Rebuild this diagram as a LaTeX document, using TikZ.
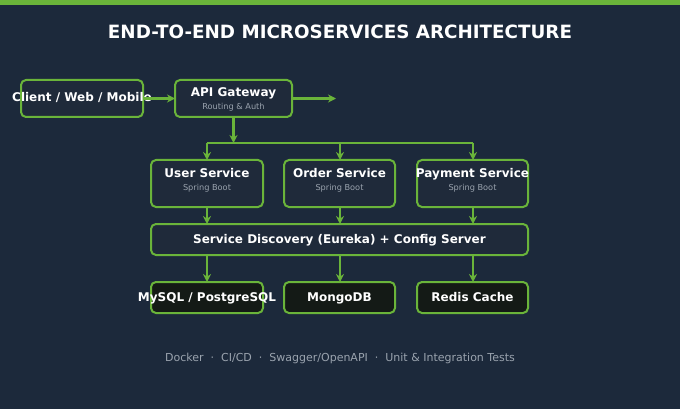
\documentclass[tikz,border=0pt]{standalone}
\usepackage{fontspec}
\setmainfont{DejaVu Sans}
\definecolor{bg}{HTML}{1C293B}
\definecolor{gr}{HTML}{6AB43A}
\definecolor{boxf}{HTML}{1F2A3A}
\definecolor{dbf}{HTML}{141A16}
\definecolor{sub}{HTML}{9AA3AE}
\usetikzlibrary{arrows.meta}
\tikzset{
 bx/.style={draw=gr,line width=2pt,rounded corners=5pt,fill=boxf,inner sep=0pt},
 db/.style={bx,fill=dbf},
 lab/.style={text=white,font=\bfseries\fontsize{12}{13}\selectfont,text height=8.5pt,text depth=2.5pt,inner sep=0pt},
 subl/.style={text=sub,font=\fontsize{8.2}{9}\selectfont,text height=6pt,text depth=2pt,inner sep=0pt},
 ar/.style={draw=gr,line width=2.2pt,-{Stealth[length=8pt,width=8pt]}},
 ln/.style={draw=gr,line width=2.2pt}
}
\begin{document}
\begin{tikzpicture}[x=1pt,y=-1pt]
\fill[bg] (0,0) rectangle (680,409);
\useasboundingbox (0,0) rectangle (680,409);
\fill[gr] (0,0) rectangle (680,5);
\node[text=white,font=\bfseries\fontsize{18.3}{20}\selectfont] (title) at (340,32) {END-TO-END MICROSERVICES ARCHITECTURE};
% boxes
\path[bx] (21,80) rectangle (143,117); \coordinate (cl) at (82,99);
\node[lab] (client) at (cl) {Client / Web / Mobile};
\path[bx] (175,80) rectangle (292,117);
\node[lab] (api) at (233.5,94) {API Gateway};
\node[subl] (apis) at (233.5,108) {Routing \& Auth};
\foreach \n/\a/\b/\t in {us/151/263/User Service,os/284/395/Order Service,ps/417/528/Payment Service}{
 \path[bx] (\a,160) rectangle (\b,207);
 \node[lab] (\n) at ({(\a+\b)/2},174) {\t};
 \node[subl] (\n s) at ({(\a+\b)/2},188) {Spring Boot};
}
\path[bx] (151,224) rectangle (528,255);
\node[lab] (disc) at (339.5,240) {Service Discovery (Eureka) + Config Server};
\foreach \n/\a/\b/\t in {d1/151/263/{MySQL / PostgreSQL},d2/284/395/MongoDB,d3/417/528/Redis Cache}{
 \path[db] (\a,282) rectangle (\b,313);
 \node[lab] (\n) at ({(\a+\b)/2},298.5) {\t};
}
% connectors
\coordinate (c1) at (143,98.5); \coordinate (c2) at (175,98.5);
\draw[ar] (c1) -- (c2);
\coordinate (a1) at (292,98.5); \coordinate (a2) at (336,98.5);
\draw[ar] (a1) -- (a2);
\coordinate (ab) at (233.5,117); \coordinate (aj) at (233.5,143);
\draw[ar] (ab) -- (aj);
\coordinate (hl) at (207,143); \coordinate (hr) at (473,143);
\draw[ln] (hl) -- (hr);
\foreach \x in {207,340,473}{
 \draw[ar] (\x,143) -- (\x,160);
 \draw[ar] (\x,207) -- (\x,224);
 \draw[ar] (\x,255) -- (\x,282);
}
\node[text=sub,font=\fontsize{11}{13}\selectfont] (foot) at (340,358) {Docker \ \textperiodcentered\ \ CI/CD \ \textperiodcentered\ \ Swagger/OpenAPI \ \textperiodcentered\ \ Unit \& Integration Tests};
\end{tikzpicture}
\end{document}
